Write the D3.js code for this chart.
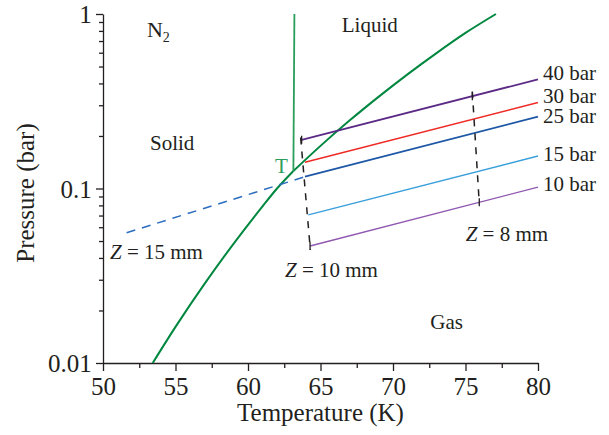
<!DOCTYPE html>
<html>
<head>
<meta charset="utf-8">
<script src="https://cdn.jsdelivr.net/npm/d3@7"></script>
<style>
  body { margin: 0; background: #fff; }
  svg text { font-family: "Liberation Serif", "Times New Roman", serif; fill: #231f20; }
  .axis path, .axis line { stroke: #231f20; stroke-width: 1.3; }
</style>
</head>
<body>
<svg id="chart" width="609" height="435"></svg>
<script>
// sublimation curve (solid-gas)
var sublimT = [53.43, 55, 57, 59, 61, 62, 63.13];
var sublimP = [0.01, 0.0161, 0.0284, 0.0482, 0.079, 0.1, 0.126];
// vapour pressure curve (liquid-gas)
var vapT = [63.13, 65, 67, 69, 71, 73, 75, 77.1];
var vapP = [0.126, 0.1755, 0.245, 0.335, 0.451, 0.597, 0.779, 1.0];
// melting line
var meltT = [63.13, 63.2];
var meltP = [0.126, 1.0];

// isobars
var isoLabels = ["40 bar", "30 bar", "25 bar", "15 bar", "10 bar"];
var isoT0 = [63.7, 63.93, 63.93, 64.16, 64.28];
var isoP0 = [0.190, 0.1413, 0.1168, 0.0706, 0.0468];
var isoT1 = [80, 80, 80, 80, 80];
var isoP1 = [0.422, 0.311, 0.258, 0.1536, 0.1018];
var isoColors = ["#5b2a86", "#ee2a24", "#1d57a6", "#3a9fdb", "#9058b0"];

// dashed extension of 25 bar
var dashT = [51.63, 63.93];
var dashP = [0.0558, 0.1168];

// Z lines
var z10T = [63.63, 64.3];
var z10P = [0.196, 0.0445];
var z8T = [75.47, 75.95];
var z8P = [0.36, 0.0822];

var xTicks = [50, 55, 60, 65, 70, 75, 80];
var yTicks = [0.01, 0.1, 1];

var margin = {top: 14, left: 103, right: 71, bottom: 72};
var width = 609 - margin.left - margin.right,
    height = 435 - margin.top - margin.bottom;

var svg = d3.select("#chart");
var g = svg.append("g").attr("transform", `translate(${margin.left},${margin.top})`);

var x = d3.scaleLinear().domain([50, 80]).range([0, width]);
var y = d3.scaleLog().domain([0.01, 1]).range([height, 0]);

var line = d3.line().x(d => x(d[0])).y(d => y(d[1]));
var zip = (a, b) => a.map((v, i) => [v, b[i]]);

// axes
var minorX = d3.range(52.5, 80, 5);
g.append("g").attr("class", "axis").attr("transform", `translate(0,${height})`)
  .call(d3.axisBottom(x).tickValues(minorX).tickSize(5).tickFormat(""))
  .call(a => a.select(".domain").remove());
var xAxis = g.append("g").attr("class", "axis").attr("transform", `translate(0,${height})`)
  .call(d3.axisBottom(x).tickValues(xTicks).tickSize(8).tickSizeOuter(0).tickFormat(d3.format("d")));
xAxis.selectAll("text").attr("font-size", 25).attr("dy", "0.82em");

var minorY = [];
[0.01, 0.1].forEach(dec => { for (var k = 2; k <= 9; k++) minorY.push(dec * k); });
g.append("g").attr("class", "axis")
  .call(d3.axisLeft(y).tickValues(minorY).tickSize(4).tickFormat(""))
  .call(a => a.select(".domain").remove());
var yAxis = g.append("g").attr("class", "axis")
  .call(d3.axisLeft(y).tickValues(yTicks).tickSize(7).tickSizeOuter(0).tickFormat(d => d3.format("")(d)));
yAxis.selectAll("text").attr("font-size", 25).attr("dx", "-0.05em").attr("dy", "0.35em");
yAxis.selectAll("text").text(d => d === 1 ? "1" : d === 0.1 ? "0.1" : "0.01");

// axis titles
svg.append("text").attr("x", margin.left + width / 2).attr("y", 421)
  .attr("text-anchor", "middle").attr("font-size", 25).text("Temperature (K)");
svg.append("text").attr("transform", `translate(34,${margin.top + 179}) rotate(-90)`)
  .attr("text-anchor", "middle").attr("font-size", 25).text("Pressure (bar)");

// phase curves
g.append("path").datum(zip(sublimT, sublimP)).attr("d", line.curve(d3.curveMonotoneX))
  .attr("fill", "none").attr("stroke", "#00873f").attr("stroke-width", 2);
g.append("path").datum(zip(vapT, vapP)).attr("d", line.curve(d3.curveMonotoneX))
  .attr("fill", "none").attr("stroke", "#00873f").attr("stroke-width", 2);
line.curve(d3.curveLinear);
g.append("path").datum(zip(meltT, meltP)).attr("d", line)
  .attr("fill", "none").attr("stroke", "#2b9d5c").attr("stroke-width", 1.8);

// dashed 25 bar extension
g.append("path").datum(zip(dashT, dashP)).attr("d", line)
  .attr("fill", "none").attr("stroke", "#2a6cc0").attr("stroke-width", 1.5)
  .attr("stroke-dasharray", "9,7");

// isobars
isoLabels.forEach(function(lab, i){
  g.append("path").datum([[isoT0[i], isoP0[i]], [isoT1[i], isoP1[i]]]).attr("d", line)
    .attr("fill", "none").attr("stroke", isoColors[i]).attr("stroke-width", i === 0 || i === 2 ? 1.8 : 1.4);
});

// Z lines (dashed black)
[zip(z10T, z10P), zip(z8T, z8P)].forEach(function(pts){
  g.append("path").datum(pts).attr("d", line)
    .attr("fill", "none").attr("stroke", "#231f20").attr("stroke-width", 1.5)
    .attr("stroke-dasharray", "7,7");
});

// end caps where Z lines meet 40 bar and 10 bar
var capPts = [[isoT0[0], isoP0[0]], [isoT0[4], isoP0[4]],
  [75.47, 0.338], [75.95, 0.0833]];
g.selectAll(".cap").data(capPts).enter().append("line")
  .attr("x1", d => x(d[0])).attr("x2", d => x(d[0]))
  .attr("y1", d => y(d[1]) - 4).attr("y2", d => y(d[1]) + 4)
  .attr("stroke", "#231f20").attr("stroke-width", 1.3);

// isobar labels
var isoLabelY = [80, 103, 123, 161, 191];
isoLabels.forEach(function(lab, i){
  svg.append("text").attr("x", 543).attr("y", isoLabelY[i]).attr("font-size", 21).text(lab);
});

// region annotations
function note(T, P, txt, anchor, color){
  return g.append("text").attr("x", x(T)).attr("y", y(P))
    .attr("text-anchor", anchor || "start").attr("font-size", 21)
    .style("fill", color || "#231f20").text(txt);
}
note(68.4, 0.79, "Liquid", "middle");
note(53.24, 0.166, "Solid");
note(73.7, 0.0156, "Gas", "middle");
note(61.86, 0.122, "T", "start", "#2b9d5c");

var n2 = note(53.03, 0.735, "N").attr("font-size", 22);
n2.append("tspan").attr("font-size", 14).attr("dy", 5).text("2");

[[50.48, 0.0393, "15"], [62.55, 0.0312, "10"], [75.01, 0.0503, "8"]].forEach(function(d){
  var t = note(d[0], d[1], "");
  t.append("tspan").style("font-style", "italic").text("Z");
  t.append("tspan").text(" = " + d[2] + " mm");
});
</script>
</body>
</html>
